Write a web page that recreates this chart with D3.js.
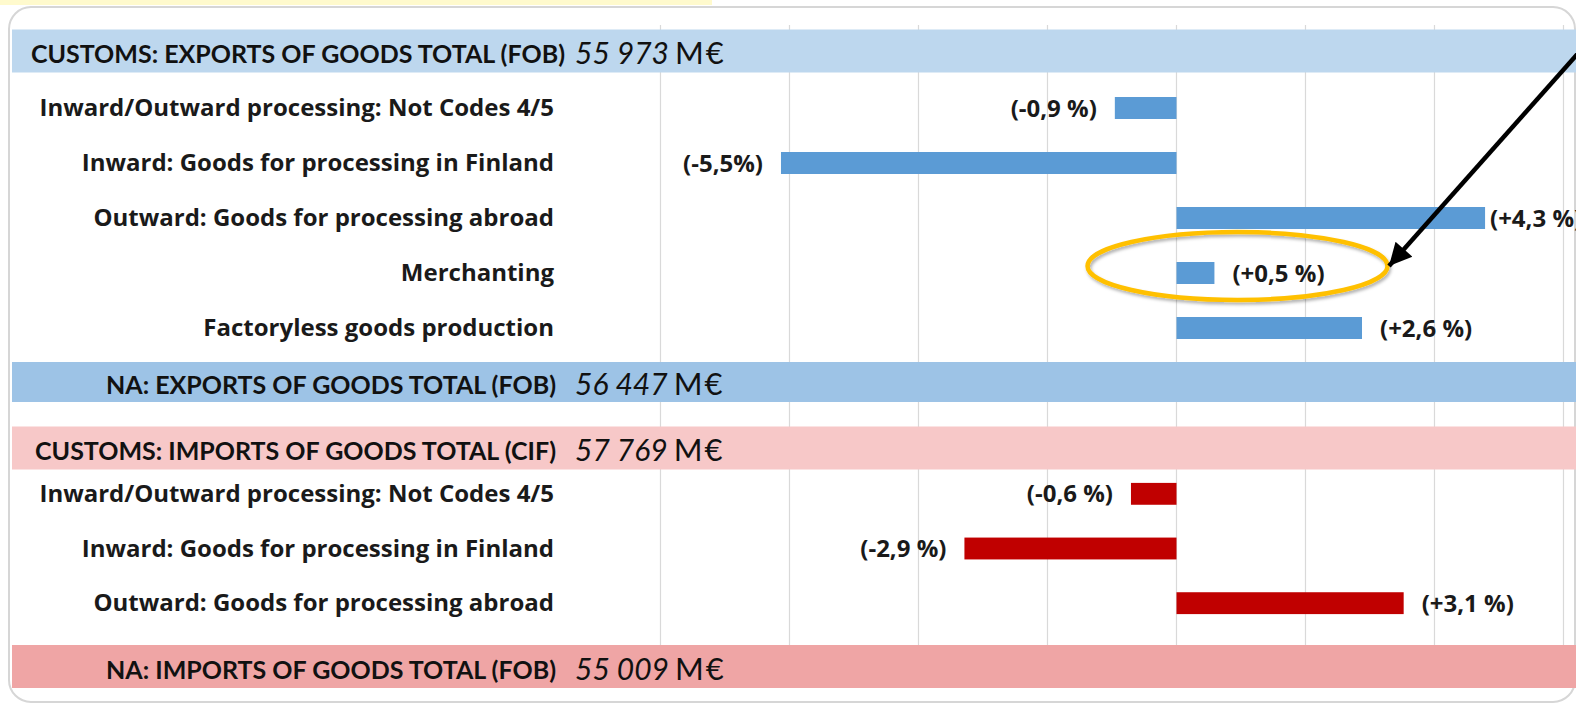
<!DOCTYPE html>
<html>
<head>
<meta charset="utf-8">
<script src="https://cdn.jsdelivr.net/npm/d3@7"></script>
<style>
  body { margin: 0; background: #fff; }
  svg { display: block; font-family: Lato, "Open Sans", sans-serif; }
  .lbl { font-family: "Open Sans", Lato, sans-serif; font-weight: 700; }
</style>
</head>
<body>
<div id="chart"></div>
<script>
// data (bar values in M€, labels as printed)
const exportCategories = [
  "Inward/Outward processing: Not Codes 4/5",
  "Inward: Goods for processing in Finland",
  "Outward: Goods for processing abroad",
  "Merchanting",
  "Factoryless goods production"
];
const exportValues = [-478, -3066, 2392, 294, 1438];
const exportLabels = ["(-0,9 %)", "(-5,5%)", "(+4,3 %)", "(+0,5 %)", "(+2,6 %)"];

const importCategories = [
  "Inward/Outward processing: Not Codes 4/5",
  "Inward: Goods for processing in Finland",
  "Outward: Goods for processing abroad"
];
const importValues = [-353, -1644, 1761];
const importLabels = ["(-0,6 %)", "(-2,9 %)", "(+3,1 %)"];

const totalNames = [
  "CUSTOMS: EXPORTS OF GOODS TOTAL (FOB)",
  "NA: EXPORTS OF GOODS TOTAL (FOB)",
  "CUSTOMS: IMPORTS OF GOODS TOTAL (CIF)",
  "NA: IMPORTS OF GOODS TOTAL (FOB)"
];
const totalValues = [55973, 56447, 57769, 55009];

// layout
const W = 1576, H = 708;
const bandColors = ["#bdd7ee", "#9dc3e6", "#f7c8c8", "#efa5a5"];
const bandY = [[29.5, 72.5], [362, 402], [426.5, 469.5], [645, 688]];
const labelRight = 556;

const svg = d3.select("#chart").append("svg")
  .attr("width", W).attr("height", H);

const defs = svg.append("defs");
defs.append("filter").attr("id", "shadow")
  .attr("x", "-10%").attr("y", "-30%").attr("width", "120%").attr("height", "160%")
  .append("feDropShadow")
  .attr("dx", 1.5).attr("dy", 2.5).attr("stdDeviation", 1.6)
  .attr("flood-color", "#000").attr("flood-opacity", 0.3);
defs.append("marker").attr("id", "head")
  .attr("viewBox", "0 0 10 10").attr("refX", 10).attr("refY", 5)
  .attr("markerWidth", 5.5).attr("markerHeight", 5)
  .attr("orient", "auto")
  .append("path").attr("d", "M0,0 L10,5 L0,10 Z").attr("fill", "#000");

// yellow strip + panel
svg.append("rect").attr("x", 0).attr("y", 0).attr("width", 712).attr("height", 5)
  .attr("fill", "#fffacd");
svg.append("rect").attr("x", 9).attr("y", 7).attr("width", 1566).attr("height", 695)
  .attr("rx", 22).attr("fill", "#fff").attr("stroke", "#d6d6d6").attr("stroke-width", 2);

// scales
const x = d3.scaleLinear().domain([-4000, 3000]).range([660.5, 1563.5]);
const yExp = d3.scaleBand().domain(exportCategories).range([80.5, 355.5]).paddingInner(0.6).paddingOuter(0.3);
const yImp = d3.scaleBand().domain(importCategories).range([466.5, 630.5]).paddingInner(0.6).paddingOuter(0.3);

// gridlines
svg.append("g").selectAll("line").data(x.ticks(7)).join("line")
  .attr("x1", d => x(d)).attr("x2", d => x(d))
  .attr("y1", 25).attr("y2", 645)
  .attr("stroke", "#d9d9d9").attr("stroke-width", 1.2);

// total bands
const bands = svg.append("g").selectAll("g").data(totalNames).join("g");
bands.append("rect")
  .attr("x", 12).attr("width", W)
  .attr("y", (d, i) => bandY[i][0])
  .attr("height", (d, i) => bandY[i][1] - bandY[i][0])
  .attr("fill", (d, i) => bandColors[i]);
const fmt = v => d3.format(",")(v).replace(",", " ");
bands.each(function(d, i) {
  const g = d3.select(this);
  const cy = (bandY[i][0] + bandY[i][1]) / 2 + 12;
  g.append("text").attr("x", i == 0 ? labelRight + 9 : labelRight).attr("y", cy)
    .attr("text-anchor", "end").attr("font-size", 25).attr("font-weight", 700)
    .attr("fill", "#111").text(d);
  const t = g.append("text").attr("x", labelRight + 19).attr("y", cy + 1).attr("fill", "#111");
  t.append("tspan").attr("font-style", "italic").attr("font-size", 30).text(fmt(totalValues[i]));
  t.append("tspan").attr("font-size", 31).attr("dx", 6).attr("letter-spacing", 2).text("M€");
});

function drawGroup(cats, vals, labels, y, color) {
  const g = svg.append("g");
  g.selectAll("text.cat").data(cats).join("text").attr("class", "cat lbl")
    .attr("x", labelRight - 2)
    .attr("y", d => y(d) + y.bandwidth() / 2 + 8)
    .attr("text-anchor", "end").attr("font-size", 24)
    .attr("fill", "#1a1a1a").text(d => d);
  g.selectAll("rect").data(vals).join("rect")
    .attr("x", d => x(Math.min(0, d)))
    .attr("width", d => Math.abs(x(d) - x(0)))
    .attr("y", (d, i) => y(cats[i]))
    .attr("height", y.bandwidth())
    .attr("fill", color);
  g.selectAll("text.val").data(vals).join("text").attr("class", "val lbl")
    .attr("x", d => d < 0 ? x(d) - 18 : Math.min(x(d) + 18, 1490))
    .attr("y", (d, i) => y(cats[i]) + y.bandwidth() / 2 + 8.5)
    .attr("text-anchor", d => d < 0 ? "end" : "start")
    .attr("font-size", 24).attr("fill", "#1a1a1a")
    .text((d, i) => labels[i]);
}
drawGroup(exportCategories, exportValues, exportLabels, yExp, "#5b9bd5");
drawGroup(importCategories, importValues, importLabels, yImp, "#c00000");

// highlight on merchanting
const mY = yExp("Merchanting") + yExp.bandwidth() / 2;
svg.append("ellipse")
  .attr("cx", 1237.5).attr("cy", mY - 7).attr("rx", 150).attr("ry", 34)
  .attr("fill", "none").attr("stroke", "#ffc000").attr("stroke-width", 4.5)
  .attr("filter", "url(#shadow)");
svg.append("line")
  .attr("x1", 1606).attr("y1", 22).attr("x2", 1389).attr("y2", mY - 7)
  .attr("stroke", "#000").attr("stroke-width", 4.5)
  .attr("marker-end", "url(#head)");
</script>
</body>
</html>
